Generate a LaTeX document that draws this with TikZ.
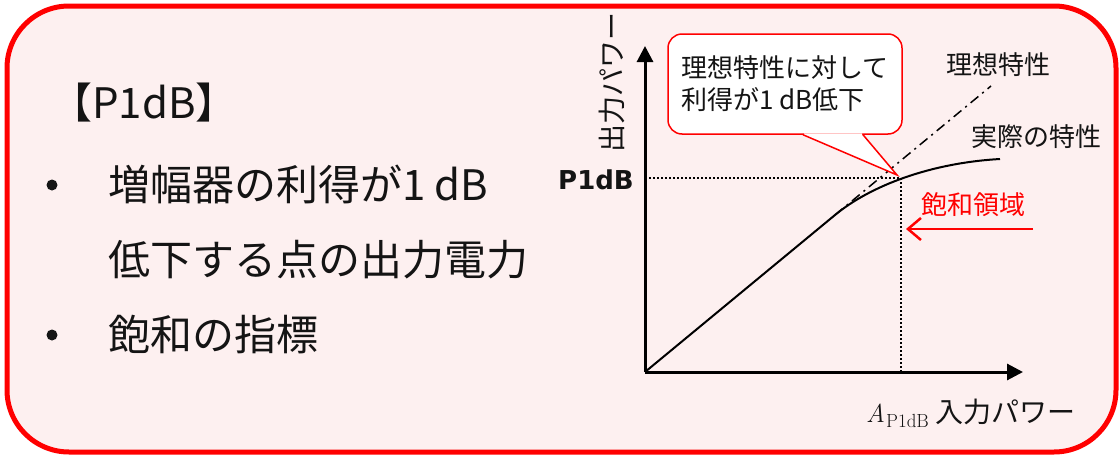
\documentclass[tikz,border=0pt]{standalone}
\usepackage[no-math]{fontspec}
\setmainfont{Noto Sans CJK JP}
\newfontfamily\dvb{DejaVu Sans}
\newfontfamily\lmr{Latin Modern Roman}
\usetikzlibrary{arrows.meta}
\definecolor{bgpink}{RGB}{253,240,240}
\definecolor{txt}{RGB}{20,20,20}
\begin{document}
\begin{tikzpicture}[x=1pt,y=-1pt,
  jp/.style={inner sep=0pt, text=txt},
  big/.style={jp, anchor=west, text height=36pt, text depth=6pt, font=\fontsize{42}{50}\selectfont},
  lbl/.style={jp, text height=22.5pt, text depth=3.5pt, font=\fontsize{26}{30}\selectfont},
  mid/.style={jp, text height=24pt, text depth=4pt, font=\fontsize{28}{30}\selectfont},
  bulletdot/.style={circle, fill=txt, inner sep=0pt, minimum size=11pt},
  axis/.style={line width=3pt, -{Triangle[length=16pt,width=16pt]}},
  curve/.style={line width=2pt},
  dotline/.style={line width=1.5pt, dash pattern=on 1.5pt off 2.5pt},
  dashdotline/.style={line width=1.5pt, dash pattern=on 10pt off 5pt on 2pt off 5pt},
  callout/.style={draw=red, line width=1.5pt, fill=white, rounded corners=14pt,
    minimum width=234pt, minimum height=100pt, align=left, inner sep=0pt,
    font=\fontsize{26}{32}\selectfont, text=txt},
  redarrow/.style={red, line width=2.5pt, -{Straight Barb[length=13pt,width=22pt]}}
]
\useasboundingbox (0,0) rectangle (1120,458);
\draw[red, line width=5pt, fill=bgpink, rounded corners=62pt] (7,6) rectangle (1116,452);

% left text
\node[big] (title) at (50,103) {【P1dB】};
\node[bulletdot] (b1) at (52,185) {};
\node[big] (l1) at (108,185) {増幅器の利得が1 dB};
\node[big] (l2) at (108,260) {低下する点の出力電力};
\node[bulletdot] (b2) at (52,335) {};
\node[big] (l3) at (108,335) {飽和の指標};

% graph
\coordinate (O) at (645,372);
\coordinate (ytop) at (645,46);
\coordinate (xend) at (1023,372);
\coordinate (knee) at (835,215);
\coordinate (ideal) at (991,86);
\coordinate (P) at (901,178);
\coordinate (real) at (1000,159);
\coordinate (tip) at (897,175);

\draw[dotline] (O |- P) -- (P) -- (P |- O);
\draw[dashdotline] (knee) -- (ideal);
\draw[curve] (O) -- (knee) .. controls (870,186) and (930,163) .. (real);
\draw[axis] (O) -- (ytop);
\draw[axis] (O) -- (xend);

% callout
\node[callout] (call) at (785,84) {理想特性に対して\\利得が1 dB低下};
\coordinate (pa) at ([xshift=18pt]call.south);
\coordinate (pb) at ([xshift=78pt]call.south);
\fill[white] ([shift={(1pt,1.5pt)}]pa) -- ([xshift=1pt]pa) -- (tip) -- ([xshift=-1pt]pb) -- ([shift={(-1pt,1.5pt)}]pb) -- cycle;
\draw[red, line width=1.5pt] (pa) -- (tip) -- (pb);

% labels
\node[lbl] (ideallbl) at (998,65) {理想特性};
\node[lbl] (reallbl) at (1036,137) {実際の特性};
\node[lbl, text=red] (sat) at (973,205) {飽和領域};
\coordinate (arrS) at (1033,229);
\coordinate (arrE) at (906,229);
\draw[redarrow] (arrS) -- (arrE);

\node[jp, anchor=east, text height=19pt, text depth=0pt, font=\dvb\bfseries\fontsize{26}{30}\selectfont] (p1) at (634,180) {P1dB};
\node[mid, rotate=90] (ylab) at (612,82) {出力パワー};
\node[mid, anchor=west] (xlab) at (866,412) {{\lmr\itshape\fontsize{26}{30}\selectfont A\kern1pt}\raisebox{-5pt}{\lmr\fontsize{19}{20}\selectfont P1dB} 入力パワー};
\end{tikzpicture}
\end{document}
